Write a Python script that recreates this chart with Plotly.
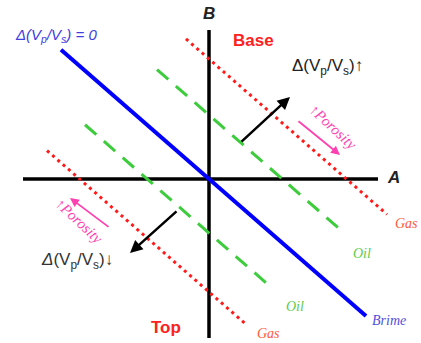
import numpy as np
import plotly.graph_objects as go

# Fluid trend lines in the A-B crossplot: slope shared, B-intercepts differ
slope = -0.873
brine_intercept = 0
brine_x = [-148, 157]
oil_intercepts = [64, -54]
oil_x = [[-52, 135], [-124, 64]]
gas_intercepts = [120, -113]
gas_x = [[-23, 178], [-162, 38]]

# Axis extents (A horizontal, B vertical)
a_axis = [-186, 169]
b_axis = [-159, 149]

# Perpendicular Vp/Vs-change arrows: (tail, head)
vpvs_up = [(31, 36), (81, 82)]
vpvs_down = [(-31, -31), (-79, -74)]
# Porosity arrows along the gas trends
poro_up = [(88, 59), (131, 24)]
poro_down = [(-99, -49), (-139, -19)]


def trend(xs, b):
    xs = np.array(xs, dtype=float)
    return xs, b + slope * xs


fig = go.Figure()

# axes
fig.add_trace(go.Scatter(x=a_axis, y=[0, 0], mode="lines",
                         line=dict(color="black", width=3.5), hoverinfo="skip"))
fig.add_trace(go.Scatter(x=[0, 0], y=b_axis, mode="lines",
                         line=dict(color="black", width=3.5), hoverinfo="skip"))

# gas (red dotted)
for xs, b in zip(gas_x, gas_intercepts):
    x, y = trend(xs, b)
    fig.add_trace(go.Scatter(x=x, y=y, mode="lines",
                             line=dict(color="#ff1a1a", width=3, dash="3px,4px"),
                             hoverinfo="skip"))
# oil (green dashed)
for xs, b in zip(oil_x, oil_intercepts):
    x, y = trend(xs, b)
    fig.add_trace(go.Scatter(x=x, y=y, mode="lines",
                             line=dict(color="#3ccc3c", width=3, dash="15px,10px"),
                             hoverinfo="skip"))
# brine (blue solid)
x, y = trend(brine_x, brine_intercept)
fig.add_trace(go.Scatter(x=x, y=y, mode="lines",
                         line=dict(color="#0000ff", width=4), hoverinfo="skip"))


def arrow(seg, color, width):
    (x0, y0), (x1, y1) = seg
    fig.add_annotation(x=x1, y=y1, ax=x0, ay=y0, xref="x", yref="y",
                       axref="x", ayref="y", showarrow=True, arrowhead=2,
                       arrowsize=1, arrowwidth=width, arrowcolor=color, text="")


arrow(vpvs_up, "black", 2.5)
arrow(vpvs_down, "black", 2.5)
arrow(poro_up, "#ff40b0", 1.8)
arrow(poro_down, "#ff40b0", 1.8)


def label(x, y, text, size, color, family="Arial", angle=0):
    fig.add_annotation(x=x, y=y, xref="x", yref="y", text=text, showarrow=False,
                       textangle=angle, font=dict(size=size, color=color, family=family))


serif = "Liberation Serif"
label(184, 2, "<b><i>A</i></b>", 17, "#222222")
label(0, 166, "<b><i>B</i></b>", 17, "#222222")
label(44, 139, "<b>Base</b>", 17, "#ff2020")
label(-43, -148, "<b>Top</b>", 17, "#ff2020")
label(118, 112, "Δ(V<sub>p</sub>/V<sub>s</sub>)↑", 17, "#222222")
label(-132, -82, "<i>Δ</i>(V<sub>p</sub>/V<sub>s</sub>)↓", 17, "#333333")
label(-153, 144, "<i>Δ(V<sub>p</sub>/V<sub>s</sub>) = 0</i>", 15, "#4040e0")
label(197, -44, "<i>Gas</i>", 14, "#ff5a3a", serif)
label(59, -154, "<i>Gas</i>", 14, "#ff5a3a", serif)
label(153, -74, "<i>Oil</i>", 14, "#5ccc4c", serif)
label(86, -127, "<i>Oil</i>", 14, "#5ccc4c", serif)
label(180, -141, "<i>Brime</i>", 14, "#5050e0", serif)
label(124, 52, "<i>↑Porosity</i>", 15, "#ff40b0", serif, 43)
label(-130, -42, "<i>↑Porosity</i>", 15, "#ff40b0", serif, 43)

fig.update_layout(
    width=421, height=343,
    margin=dict(l=0, r=0, t=0, b=0),
    paper_bgcolor="white", plot_bgcolor="white",
    showlegend=False,
    xaxis=dict(range=[-209, 212], visible=False, fixedrange=True),
    yaxis=dict(range=[-164, 179], visible=False, fixedrange=True),
)

fig.write_html("out.html")
